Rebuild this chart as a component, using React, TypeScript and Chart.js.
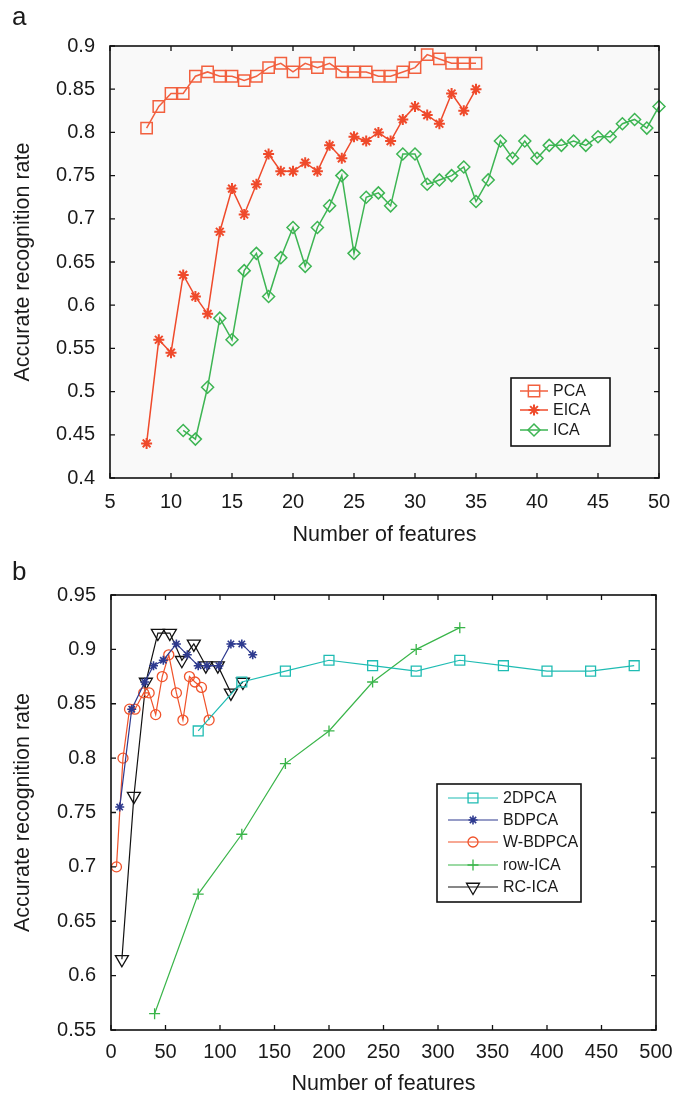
import React, { useEffect, useRef } from 'react';
import { Chart, registerables } from 'chart.js';

Chart.register(...registerables);

const FONT = '"Liberation Sans", Arial, Helvetica, sans-serif';

// ---------- Panel a ----------
const aXTicks = [5, 10, 15, 20, 25, 30, 35, 40, 45, 50];
const aYTicks = [0.4, 0.45, 0.5, 0.55, 0.6, 0.65, 0.7, 0.75, 0.8, 0.85, 0.9];

const pcaX = [8, 9, 10, 11, 12, 13, 14, 15, 16, 17, 18, 19, 20, 21, 22, 23, 24, 25, 26, 27, 28, 29, 30, 31, 32, 33, 34, 35];
const pcaY = [0.805, 0.83, 0.845, 0.845, 0.865, 0.87, 0.865, 0.865, 0.86, 0.865, 0.875, 0.88, 0.87, 0.88, 0.875, 0.88, 0.87, 0.87, 0.87, 0.865, 0.865, 0.87, 0.875, 0.89, 0.885, 0.88, 0.88, 0.88];

const eicaX = [8, 9, 10, 11, 12, 13, 14, 15, 16, 17, 18, 19, 20, 21, 22, 23, 24, 25, 26, 27, 28, 29, 30, 31, 32, 33, 34, 35];
const eicaY = [0.44, 0.56, 0.545, 0.635, 0.61, 0.59, 0.685, 0.735, 0.705, 0.74, 0.775, 0.755, 0.755, 0.765, 0.755, 0.785, 0.77, 0.795, 0.79, 0.8, 0.79, 0.815, 0.83, 0.82, 0.81, 0.845, 0.825, 0.85];

const icaX = [11, 12, 13, 14, 15, 16, 17, 18, 19, 20, 21, 22, 23, 24, 25, 26, 27, 28, 29, 30, 31, 32, 33, 34, 35, 36, 37, 38, 39, 40, 41, 42, 43, 44, 45, 46, 47, 48, 49, 50];
const icaY = [0.455, 0.445, 0.505, 0.585, 0.56, 0.64, 0.66, 0.61, 0.655, 0.69, 0.645, 0.69, 0.715, 0.75, 0.66, 0.725, 0.73, 0.715, 0.775, 0.775, 0.74, 0.745, 0.75, 0.76, 0.72, 0.745, 0.79, 0.77, 0.79, 0.77, 0.785, 0.785, 0.79, 0.785, 0.795, 0.795, 0.81, 0.815, 0.805, 0.83];

// ---------- Panel b ----------
const bXTicks = [0, 50, 100, 150, 200, 250, 300, 350, 400, 450, 500];
const bYTicks = [0.55, 0.6, 0.65, 0.7, 0.75, 0.8, 0.85, 0.9, 0.95];

const dpca2X = [80, 120, 160, 200, 240, 280, 320, 360, 400, 440, 480];
const dpca2Y = [0.825, 0.87, 0.88, 0.89, 0.885, 0.88, 0.89, 0.885, 0.88, 0.88, 0.885];

const bdpcaX = [8, 19, 31, 39, 48, 60, 70, 80, 88, 99, 110, 120, 130];
const bdpcaY = [0.755, 0.845, 0.87, 0.885, 0.89, 0.905, 0.895, 0.885, 0.885, 0.885, 0.905, 0.905, 0.895];

const wbdpcaX = [5, 11, 17, 22, 30, 35, 41, 47, 53, 60, 66, 72, 77, 83, 90];
const wbdpcaY = [0.7, 0.8, 0.845, 0.845, 0.86, 0.86, 0.84, 0.875, 0.895, 0.86, 0.835, 0.875, 0.87, 0.865, 0.835];

const rowIcaX = [40, 80, 120, 160, 200, 240, 280, 320];
const rowIcaY = [0.565, 0.675, 0.73, 0.795, 0.825, 0.87, 0.9, 0.92];

const rcIcaX = [10, 21, 32, 43, 54, 65, 76, 87, 98, 110, 121];
const rcIcaY = [0.615, 0.765, 0.87, 0.915, 0.915, 0.89, 0.905, 0.885, 0.885, 0.86, 0.87];

const pts = (xs: number[], ys: number[]) => xs.map((x, i) => ({ x, y: ys[i] }));

function drawMarker(ctx: CanvasRenderingContext2D, style: string, x: number, y: number, r: number, color: string, lw: number, rot: number) {
  ctx.save();
  ctx.strokeStyle = color;
  ctx.lineWidth = lw;
  ctx.beginPath();
  if (style === 'rect') {
    const s = r * Math.SQRT1_2;
    ctx.rect(x - s, y - s, 2 * s, 2 * s);
  } else if (style === 'rectRot') {
    ctx.moveTo(x, y - r); ctx.lineTo(x + r, y); ctx.lineTo(x, y + r); ctx.lineTo(x - r, y); ctx.closePath();
  } else if (style === 'circle') {
    ctx.arc(x, y, r, 0, Math.PI * 2);
  } else if (style === 'cross') {
    ctx.moveTo(x, y - r); ctx.lineTo(x, y + r); ctx.moveTo(x - r, y); ctx.lineTo(x + r, y);
  } else if (style === 'star') {
    const d = r * Math.SQRT1_2;
    ctx.moveTo(x, y - r); ctx.lineTo(x, y + r); ctx.moveTo(x - r, y); ctx.lineTo(x + r, y);
    ctx.moveTo(x - d, y - d); ctx.lineTo(x + d, y + d); ctx.moveTo(x - d, y + d); ctx.lineTo(x + d, y - d);
  } else if (style === 'triangle') {
    let a = (rot * Math.PI) / 180;
    ctx.moveTo(x + Math.sin(a) * r, y - Math.cos(a) * r);
    a += (2 * Math.PI) / 3;
    ctx.lineTo(x + Math.sin(a) * r, y - Math.cos(a) * r);
    a += (2 * Math.PI) / 3;
    ctx.lineTo(x + Math.sin(a) * r, y - Math.cos(a) * r);
    ctx.closePath();
  }
  ctx.stroke();
  ctx.restore();
}

type Deco = {
  letter: string;
  letterY: number;
  yTitleX: number;
  xTitleY: number;
  bg: string;
  legend: { left: number; top: number; right: number; bottom: number; rowY: number[]; lineX1: number; lineX2: number; textX: number };
  xTicks: number[];
  yTicks: number[];
};

function decoPlugin(d: Deco) {
  return {
    id: 'deco',
    beforeDraw(chart: any) {
      const ctx: CanvasRenderingContext2D = chart.ctx;
      const ca = chart.chartArea;
      ctx.save();
      ctx.fillStyle = '#ffffff';
      ctx.fillRect(0, 0, chart.width, chart.height);
      ctx.fillStyle = d.bg;
      ctx.fillRect(ca.left, ca.top, ca.right - ca.left, ca.bottom - ca.top);
      ctx.restore();
    },
    afterDraw(chart: any) {
      const ctx: CanvasRenderingContext2D = chart.ctx;
      const ca = chart.chartArea;
      const xs = chart.scales.x;
      const ys = chart.scales.y;
      ctx.save();
      // frame
      ctx.strokeStyle = '#111';
      ctx.lineWidth = 1.6;
      ctx.strokeRect(ca.left, ca.top, ca.right - ca.left, ca.bottom - ca.top);
      // inward ticks
      ctx.lineWidth = 1.3;
      ctx.beginPath();
      const tl = 5;
      d.xTicks.forEach((v) => {
        const px = xs.getPixelForValue(v);
        ctx.moveTo(px, ca.bottom); ctx.lineTo(px, ca.bottom - tl);
        ctx.moveTo(px, ca.top); ctx.lineTo(px, ca.top + tl);
      });
      d.yTicks.forEach((v) => {
        const py = ys.getPixelForValue(v);
        ctx.moveTo(ca.left, py); ctx.lineTo(ca.left + tl, py);
        ctx.moveTo(ca.right, py); ctx.lineTo(ca.right - tl, py);
      });
      ctx.stroke();

      // titles
      ctx.fillStyle = '#1a1a1a';
      ctx.font = `26px ${FONT}`;
      ctx.textAlign = 'left';
      ctx.textBaseline = 'alphabetic';
      ctx.fillText(d.letter, 12, d.letterY);

      ctx.font = `21.5px ${FONT}`;
      ctx.textAlign = 'center';
      ctx.textBaseline = 'middle';
      ctx.fillText('Number of features', (ca.left + ca.right) / 2, d.xTitleY);
      ctx.save();
      ctx.translate(d.yTitleX, (ca.top + ca.bottom) / 2);
      ctx.rotate(-Math.PI / 2);
      ctx.fillText('Accurate recognition rate', 0, 0);
      ctx.restore();

      // legend
      const L = d.legend;
      ctx.fillStyle = '#ffffff';
      ctx.fillRect(L.left, L.top, L.right - L.left, L.bottom - L.top);
      ctx.strokeStyle = '#111';
      ctx.lineWidth = 1.6;
      ctx.strokeRect(L.left, L.top, L.right - L.left, L.bottom - L.top);
      ctx.font = `16px ${FONT}`;
      ctx.textAlign = 'left';
      ctx.textBaseline = 'middle';
      chart.data.datasets.forEach((ds: any, i: number) => {
        const y = L.rowY[i];
        ctx.strokeStyle = ds.borderColor;
        ctx.lineWidth = ds.borderWidth;
        ctx.beginPath();
        ctx.moveTo(L.lineX1, y); ctx.lineTo(L.lineX2, y);
        ctx.stroke();
        drawMarker(ctx, ds.pointStyle, (L.lineX1 + L.lineX2) / 2, y, ds.pointRadius, ds.borderColor, ds.pointBorderWidth, ds.pointRotation || 0);
        ctx.fillStyle = '#1a1a1a';
        ctx.fillText(ds.label, L.textX, y + 1);
      });
      ctx.restore();
    },
  };
}

const fmt = (v: any) => String(Number(Number(v).toFixed(2)));

function makeOptions(xMin: number, xMax: number, yMin: number, yMax: number, xTicks: number[], yTicks: number[], padding: any, xH: number, yW: number, xPad: number, yPad: number) {
  const tickFont = { family: FONT, size: 20 };
  return {
    animation: false,
    responsive: false,
    devicePixelRatio: 1,
    layout: { padding },
    plugins: { legend: { display: false }, tooltip: { enabled: false }, title: { display: false } },
    scales: {
      x: {
        type: 'linear',
        min: xMin,
        max: xMax,
        afterBuildTicks: (s: any) => { s.ticks = xTicks.map((v) => ({ value: v })); },
        afterFit: (s: any) => { s.height = xH; },
        grid: { display: false, drawTicks: false },
        border: { display: false },
        ticks: { font: tickFont, color: '#1a1a1a', padding: xPad, maxRotation: 0, autoSkip: false, callback: fmt },
      },
      y: {
        type: 'linear',
        min: yMin,
        max: yMax,
        afterBuildTicks: (s: any) => { s.ticks = yTicks.map((v) => ({ value: v })); },
        afterFit: (s: any) => { s.width = yW; },
        grid: { display: false, drawTicks: false },
        border: { display: false },
        ticks: { font: tickFont, color: '#1a1a1a', padding: yPad, autoSkip: false, callback: fmt },
      },
    },
  };
}

function ds(label: string, xs: number[], ys: number[], color: string, style: string, r: number, bw: number, lw: number, rot = 0) {
  return {
    label,
    data: pts(xs, ys),
    borderColor: color,
    borderWidth: lw,
    pointStyle: style,
    pointRadius: r,
    pointBorderWidth: bw,
    pointBorderColor: color,
    pointBackgroundColor: 'rgba(0,0,0,0)',
    pointRotation: rot,
    tension: 0,
    clip: false,
    showLine: true,
    fill: false,
  };
}

export default function App() {
  const refA = useRef<HTMLCanvasElement>(null);
  const refB = useRef<HTMLCanvasElement>(null);

  useEffect(() => {
    const chartA = new Chart(refA.current as HTMLCanvasElement, {
      type: 'line',
      data: {
        datasets: [
          ds('PCA', pcaX, pcaY, '#f2603f', 'rect', 8, 1.5, 1.5),
          ds('EICA', eicaX, eicaY, '#ef4a2b', 'star', 5.5, 2, 1.5),
          ds('ICA', icaX, icaY, '#3db553', 'rectRot', 6, 1.5, 1.5),
        ] as any,
      },
      options: makeOptions(5, 50, 0.4, 0.9, aXTicks, aYTicks, { left: 0, right: 27, top: 46, bottom: 0 }, 70, 110, 12, 15) as any,
      plugins: [
        decoPlugin({
          letter: 'a', letterY: 25, yTitleX: 23, xTitleY: 535, bg: '#f9f9f9',
          legend: { left: 511, top: 378, right: 610, bottom: 446, rowY: [391, 410, 430], lineX1: 520, lineX2: 548, textX: 553 },
          xTicks: aXTicks, yTicks: aYTicks,
        }),
      ] as any,
    });

    const chartB = new Chart(refB.current as HTMLCanvasElement, {
      type: 'line',
      data: {
        datasets: [
          ds('2DPCA', dpca2X, dpca2Y, '#1fbcb3', 'rect', 7, 1.3, 1.2),
          ds('BDPCA', bdpcaX, bdpcaY, '#2e3a8f', 'star', 4.5, 1.6, 1.2),
          ds('W-BDPCA', wbdpcaX, wbdpcaY, '#f0532b', 'circle', 5, 1.3, 1.2),
          ds('row-ICA', rowIcaX, rowIcaY, '#3ab54a', 'cross', 5.5, 1.3, 1.2),
          ds('RC-ICA', rcIcaX, rcIcaY, '#111111', 'triangle', 7.5, 1.3, 1.2, 180),
        ] as any,
      },
      options: makeOptions(0, 500, 0.55, 0.95, bXTicks, bYTicks, { left: 0, right: 30, top: 47, bottom: 0 }, 66, 111, 10, 15) as any,
      plugins: [
        decoPlugin({
          letter: 'b', letterY: 32, yTitleX: 23, xTitleY: 536, bg: '#ffffff',
          legend: { left: 437, top: 236, right: 581, bottom: 354, rowY: [250, 272, 294, 317, 339], lineX1: 448, lineX2: 498, textX: 503 },
          xTicks: bXTicks, yTicks: bYTicks,
        }),
      ] as any,
    });

    return () => {
      chartA.destroy();
      chartB.destroy();
    };
  }, []);

  return (
    <div style={{ position: 'absolute', left: 0, top: 0, width: 686, height: 1096, background: '#fff' }}>
      <canvas ref={refA} width={686} height={548} style={{ position: 'absolute', left: 0, top: 0, width: 686, height: 548 }} />
      <canvas ref={refB} width={686} height={548} style={{ position: 'absolute', left: 0, top: 548, width: 686, height: 548 }} />
    </div>
  );
}
